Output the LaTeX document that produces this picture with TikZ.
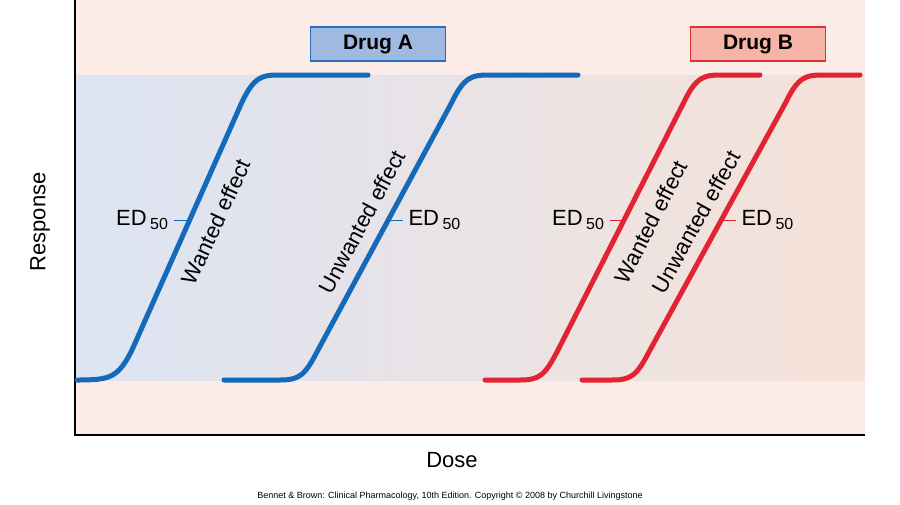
\documentclass[tikz,border=0pt]{standalone}
\usepackage{fontspec}
\setmainfont{Liberation Sans}
\definecolor{cA}{RGB}{20,105,185}
\definecolor{cB}{RGB}{225,35,50}
\definecolor{bgpink}{RGB}{252,236,232}
\definecolor{bandL}{RGB}{220,228,243}
\definecolor{bandR}{RGB}{246,226,216}
\definecolor{boxAfill}{RGB}{160,185,225}
\definecolor{boxAdraw}{RGB}{40,110,190}
\definecolor{boxBfill}{RGB}{245,180,165}
\definecolor{boxBdraw}{RGB}{225,45,55}
\begin{document}
\begin{tikzpicture}[x=1pt,y=-1pt,
  curveA/.style={line width=5pt,draw=cA,line cap=round},
  curveB/.style={line width=5pt,draw=cB,line cap=round},
  tickA/.style={line width=1pt,draw=cA},
  tickB/.style={line width=1pt,draw=cB},
  lab/.style={font=\fontsize{22}{24}\selectfont},
  drug/.style={font=\bfseries\fontsize{21}{24}\selectfont,minimum width=135pt,minimum height=34pt,line width=1.5pt}]
\useasboundingbox (0,0) rectangle (900,504);
\fill[white] (0,0) rectangle (900,504);
\fill[bgpink] (75,0) rectangle (865,435);
\shade[left color=bandL,right color=bandR] (75,75) rectangle (865,380);
\draw[line width=1.5pt] (75,0) -- (75,435) -- (865,435);
\node[drug,draw=boxAdraw,fill=boxAfill] (da) at (378,44) {Drug A};
\node[drug,draw=boxBdraw,fill=boxBfill] (db) at (758,44) {Drug B};
\draw[curveA] (77,380) .. controls (110,380) and (118,378) .. (132,350) -- (242,102) .. controls (254,77) and (262,75) .. (278,75) -- (368,75);
\draw[curveA] (224,380) -- (280,380) .. controls (300,380) and (305,375) .. (318,350) -- (452,102) .. controls (464,77) and (472,75) .. (488,75) -- (578,75);
\draw[curveB] (485,380) -- (520,380) .. controls (540,380) and (545,375) .. (558,350) -- (684,102) .. controls (696,77) and (704,75) .. (720,75) -- (760,75);
\draw[curveB] (582,380) -- (612,380) .. controls (632,380) and (637,375) .. (650,350) -- (786,102) .. controls (798,77) and (806,75) .. (822,75) -- (860,75);
\coordinate (t1) at (189,220); \draw[tickA] (t1) -- ++(-15,0);
\coordinate (t2) at (388,220); \draw[tickA] (t2) -- ++(15,0);
\coordinate (t3) at (624,220); \draw[tickB] (t3) -- ++(-14,0);
\coordinate (t4) at (721,220); \draw[tickB] (t4) -- ++(15,0);
\node[lab,anchor=east] (e1) at (172,220) {ED$\,_{\mbox{\fontsize{16}{18}\selectfont 50}}$};
\node[lab,anchor=west] (e2) at (405,220) {ED$\,_{\mbox{\fontsize{16}{18}\selectfont 50}}$};
\node[lab,anchor=east] (e3) at (608,220) {ED$\,_{\mbox{\fontsize{16}{18}\selectfont 50}}$};
\node[lab,anchor=west] (e4) at (738,220) {ED$\,_{\mbox{\fontsize{16}{18}\selectfont 50}}$};
\node[lab,rotate=65] (w1) at (216,222) {Wanted effect};
\node[lab,rotate=62] (u1) at (362,222) {Unwanted effect};
\node[lab,rotate=63] (w2) at (651,222) {Wanted effect};
\node[lab,rotate=61] (u2) at (696,222) {Unwanted effect};
\node[lab,rotate=90] (ry) at (40,222) {Response};
\node[lab] (dx) at (452,460) {Dose};
\node[font=\fontsize{9}{10}\selectfont] (ft) at (450,496) {Bennet \& Brown: Clinical Pharmacology, 10th Edition. Copyright © 2008 by Churchill Livingstone};
\end{tikzpicture}
\end{document}
